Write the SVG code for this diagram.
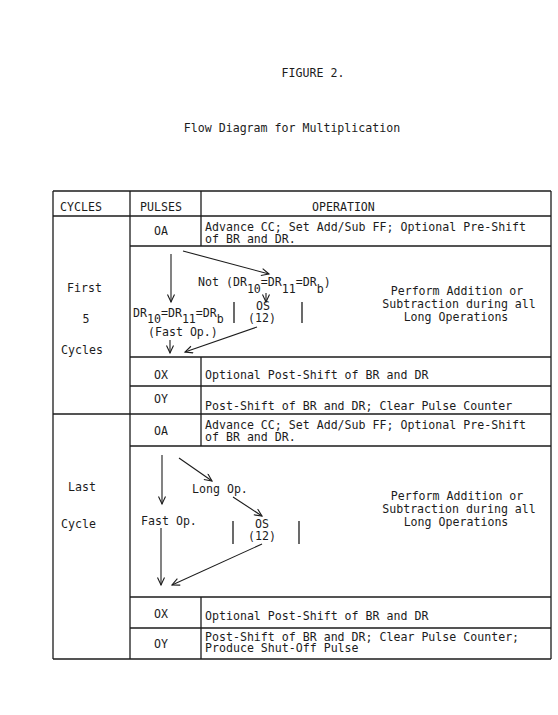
<svg xmlns="http://www.w3.org/2000/svg" width="558" height="715" viewBox="0 0 558 715">
<defs>
<marker id="ah" markerUnits="userSpaceOnUse" markerWidth="10" markerHeight="10" refX="8" refY="4" orient="auto">
<path d="M0.5,0.5 L8,4 L0.5,7.5" fill="none" stroke="#1c1c1c" stroke-width="1.1"/>
</marker>
</defs>
<style>
text{font-family:"DejaVu Sans Mono","Liberation Mono",monospace;font-size:11.6px;fill:#1c1c1c}
.c{text-anchor:middle}
.tl{stroke:#1c1c1c;stroke-width:1.3;fill:none}
.ar{stroke:#1c1c1c;stroke-width:1.1;fill:none;marker-end:url(#ah)}
.ln{stroke:#1c1c1c;stroke-width:1.3;fill:none}
</style>
<rect width="558" height="715" fill="#ffffff"/>
<g id="title">
<text class="c" x="313" y="77">FIGURE 2.</text>
<text class="c" x="292" y="132">Flow Diagram for Multiplication</text>
</g>
<g id="table-grid">
<path class="tl" d="M53,191 H551 M53,216 H551 M130,246 H551 M130,357 H551 M130,386 H551 M53,414 H551 M130,446 H551 M130,597 H551 M130,628 H551 M53,659 H551"/>
<path class="tl" d="M53,191 V659 M130,191 V659 M551,191 V659 M201,191 V246 M201,357 V446 M201,597 V659"/>
</g>
<g id="header">
<text x="60" y="211">CYCLES</text>
<text class="c" x="161" y="211">PULSES</text>
<text x="312" y="211">OPERATION</text>
</g>
<g id="cycles-first">
<text x="67" y="292">First</text>
<text class="c" x="86" y="323">5</text>
<text x="61" y="354">Cycles</text>
</g>
<g id="cycles-last">
<text x="68" y="491">Last</text>
<text x="61" y="528">Cycle</text>
</g>
<g id="s1-oa">
<text class="c" x="161" y="235">OA</text>
<text x="205" y="231">Advance CC; Set Add/Sub FF; Optional Pre-Shift</text>
<text x="205" y="243">of BR and DR.</text>
</g>
<g id="s1-not">
<text x="198" y="286">Not (DR<tspan dy="7">10</tspan><tspan dy="-7">=DR</tspan><tspan dy="7">11</tspan><tspan dy="-7">=DR</tspan><tspan dy="7">b</tspan><tspan dy="-7">)</tspan></text>
</g>
<g id="s1-fast">
<text x="133" y="317">DR<tspan dy="6">10</tspan><tspan dy="-6">=DR</tspan><tspan dy="6">11</tspan><tspan dy="-6">=DR</tspan><tspan dy="6">b</tspan></text>
<text x="148" y="336">(Fast Op.)</text>
</g>
<g id="s1-os">
<path class="ln" d="M234,302 V323 M302,302 V323"/>
<text class="c" x="263" y="310">OS</text>
<text class="c" x="262" y="322">(12)</text>
</g>
<g id="s1-perform">
<text class="c" x="457" y="295">Perform Addition or</text>
<text class="c" x="459" y="308">Subtraction during all</text>
<text class="c" x="456" y="321">Long Operations</text>
</g>
<g id="s1-ox">
<text class="c" x="161" y="379">OX</text>
<text x="205" y="379">Optional Post-Shift of BR and DR</text>
</g>
<g id="s1-oy">
<text class="c" x="161" y="403">OY</text>
<text x="205" y="410">Post-Shift of BR and DR; Clear Pulse Counter</text>
</g>
<g id="s2-oa">
<text class="c" x="161" y="435">OA</text>
<text x="205" y="429">Advance CC; Set Add/Sub FF; Optional Pre-Shift</text>
<text x="205" y="441">of BR and DR.</text>
</g>
<g id="s2-long">
<text x="192" y="493">Long Op.</text>
</g>
<g id="s2-fast">
<text x="141" y="525">Fast Op.</text>
</g>
<g id="s2-os">
<path class="ln" d="M233,521 V544 M299,521 V544"/>
<text class="c" x="262" y="528">OS</text>
<text class="c" x="262" y="540">(12)</text>
</g>
<g id="s2-perform">
<text class="c" x="457" y="500">Perform Addition or</text>
<text class="c" x="459" y="513">Subtraction during all</text>
<text class="c" x="456" y="526">Long Operations</text>
</g>
<g id="s2-ox">
<text class="c" x="161" y="618">OX</text>
<text x="205" y="620">Optional Post-Shift of BR and DR</text>
</g>
<g id="s2-oy">
<text class="c" x="161" y="648">OY</text>
<text x="205" y="641">Post-Shift of BR and DR; Clear Pulse Counter;</text>
<text x="205" y="652">Produce Shut-Off Pulse</text>
</g>
<g id="connectors">
<path class="ar" d="M171,254 V302"/>
<path class="ar" d="M183,251 L269,274"/>
<path class="ar" d="M266,293 V302"/>
<path class="ar" d="M170,340 V353"/>
<path class="ar" d="M257,327 L185,352"/>
<path class="ar" d="M162,455 V504"/>
<path class="ar" d="M179,458 L212,481"/>
<path class="ar" d="M233,497 L262,516"/>
<path class="ar" d="M161,528 V585"/>
<path class="ar" d="M262,544 L172,585"/>
</g>
</svg>
